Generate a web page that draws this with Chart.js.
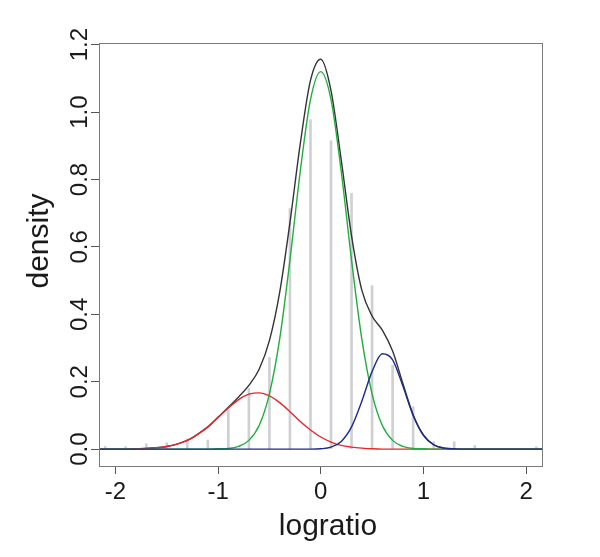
<!DOCTYPE html>
<html>
<head>
<meta charset="utf-8">
<script src="https://cdn.jsdelivr.net/npm/chart.js@4.4.0/dist/chart.umd.min.js"></script>
<style>
  html, body { margin: 0; padding: 0; background: #fff; }
  #wrap { width: 600px; height: 557px; position: relative; }
</style>
</head>
<body>
<div id="wrap"><canvas id="densityChart"></canvas></div>
<script>
const gridX = [-2.16, -2.1, -2.0, -1.9, -1.8, -1.7, -1.6, -1.5, -1.4, -1.3, -1.2, -1.1,
  -1.0, -0.9, -0.8, -0.7, -0.6, -0.5, -0.4, -0.3, -0.2, -0.1, 0.0, 0.1, 0.2, 0.3,
  0.4, 0.5, 0.6, 0.7, 0.8, 0.9, 1.0, 1.1, 1.2, 1.3, 1.4, 1.5, 1.6, 1.7, 1.8, 1.9,
  2.0, 2.1, 2.165];

// mixture density (black)
const mixTotal = [0, 0, 0, 0, 0.001, 0.002, 0.004, 0.008, 0.015, 0.026, 0.044, 0.066,
  0.095, 0.124, 0.155, 0.189, 0.237, 0.322, 0.465, 0.672, 0.905, 1.094, 1.157, 1.064, 0.857, 0.633,
  0.472, 0.395, 0.353, 0.291, 0.195, 0.102, 0.042, 0.013, 0.003, 0.001, 0, 0, 0, 0, 0, 0,
  0, 0, 0];

// left component (red)
const compLeft = [0, 0, 0, 0, 0.001, 0.002, 0.004, 0.008, 0.015, 0.026, 0.044, 0.066,
  0.094, 0.122, 0.147, 0.163, 0.167, 0.158, 0.138, 0.111, 0.082, 0.057, 0.036, 0.021, 0.011, 0.006,
  0.003, 0.001, 0, 0, 0, 0, 0, 0, 0, 0, 0, 0, 0, 0, 0, 0,
  0, 0, 0];

// main component (green)
const compMain = [0, 0, 0, 0, 0, 0, 0, 0, 0, 0, 0, 0,
  0.001, 0.002, 0.008, 0.026, 0.070, 0.164, 0.327, 0.561, 0.823, 1.037, 1.120, 1.037, 0.823, 0.561,
  0.327, 0.164, 0.070, 0.026, 0.008, 0.002, 0.001, 0, 0, 0, 0, 0, 0, 0, 0, 0,
  0, 0, 0];

// right component (blue)
const compRight = [0, 0, 0, 0, 0, 0, 0, 0, 0, 0, 0, 0,
  0, 0, 0, 0, 0, 0, 0, 0, 0, 0, 0.001, 0.006, 0.023, 0.066,
  0.142, 0.230, 0.283, 0.265, 0.187, 0.100, 0.041, 0.013, 0.003, 0.001, 0, 0, 0, 0, 0, 0,
  0, 0, 0];

// grey spikes
const histX = [-2.1, -1.9, -1.7, -1.5, -1.3, -1.1, -0.9, -0.7, -0.5, -0.3, -0.1,
  0.1, 0.3, 0.5, 0.7, 0.9, 1.1, 1.3, 1.5, 1.7, 1.9, 2.1];
const histY = [0.008, 0.007, 0.016, 0.019, 0.030, 0.027, 0.116, 0.180, 0.272, 0.714, 0.978,
  0.915, 0.759, 0.485, 0.249, 0.126, 0.022, 0.022, 0.011, 0, 0, 0.007];

const xTicks = [-2, -1, 0, 1, 2];
const yTicks = [0, 0.2, 0.4, 0.6, 0.8, 1.0, 1.2];
const yTickLabels = ['0.0', '0.2', '0.4', '0.6', '0.8', '1.0', '1.2'];

const FONT = '"Liberation Sans", Arial, Helvetica, sans-serif';

function pts(ys) {
    return gridX.map((x, i) => ({ x: x, y: ys[i] }));
}

function curve(ys, color, order) {
    return {
        type: 'line',
        data: pts(ys),
        borderColor: color,
        borderWidth: 1.4,
        pointRadius: 0,
        fill: false,
        cubicInterpolationMode: 'monotone',
        order: order
    };
}

// box around the plot and the two axis titles
const framePlugin = {
    id: 'frame',
    afterDraw(chart) {
        const ctx = chart.ctx;
        const a = chart.chartArea;
        ctx.save();
        ctx.strokeStyle = '#7a7a7a';
        ctx.lineWidth = 1;
        ctx.strokeRect(a.left + 0.5, a.top + 0.5, a.right - a.left - 1, a.bottom - a.top);

        ctx.fillStyle = '#1a1a1a';
        ctx.font = '30px ' + FONT;
        ctx.textAlign = 'center';
        ctx.textBaseline = 'alphabetic';
        ctx.fillText('logratio', 328, 535);

        ctx.translate(48, 241);
        ctx.rotate(-Math.PI / 2);
        ctx.fillText('density', 0, 0);
        ctx.restore();
    }
};

const ctx = document.getElementById('densityChart');
new Chart(ctx, {
    type: 'line',
    data: {
        datasets: [
            {
                type: 'bar',
                data: histX.map((x, i) => ({ x: x, y: histY[i] })),
                backgroundColor: '#cfd0d4',
                borderWidth: 0,
                barThickness: 2,
                order: 5
            },
            curve(mixTotal, '#333333', 4),
            curve(compLeft, '#e8262c', 3),
            curve(compMain, '#1fae3f', 2),
            curve(compRight, '#1c2a8a', 1)
        ]
    },
    options: {
        responsive: true,
        maintainAspectRatio: false,
        animation: false,
        layout: { padding: { top: 43, right: 57, left: 0, bottom: 0 } },
        plugins: {
            legend: { display: false },
            tooltip: { enabled: false }
        },
        scales: {
            x: {
                type: 'linear',
                min: -2.16,
                max: 2.165,
                offset: false,
                grid: { display: true, drawOnChartArea: false, offset: false, tickLength: 8, color: '#555' },
                border: { display: false },
                afterBuildTicks: s => { s.ticks = xTicks.map(v => ({ value: v })); },
                afterFit: s => { s.height = 91; },
                ticks: {
                    font: { family: FONT, size: 24 },
                    color: '#1a1a1a',
                    padding: 4,
                    maxRotation: 0,
                    callback: v => String(v)
                }
            },
            y: {
                type: 'linear',
                min: -0.05,
                max: 1.205,
                grid: { display: true, drawOnChartArea: false, tickLength: 8, color: '#555' },
                border: { display: false },
                afterBuildTicks: s => { s.ticks = yTicks.map(v => ({ value: v })); },
                afterFit: s => { s.width = 99; },
                ticks: {
                    font: { family: FONT, size: 24 },
                    color: '#1a1a1a',
                    minRotation: 90,
                    maxRotation: 90,
                    crossAlign: 'center',
                    padding: -6,
                    callback: (v, i) => yTickLabels[i]
                }
            }
        }
    },
    plugins: [framePlugin]
});
</script>
</body>
</html>
